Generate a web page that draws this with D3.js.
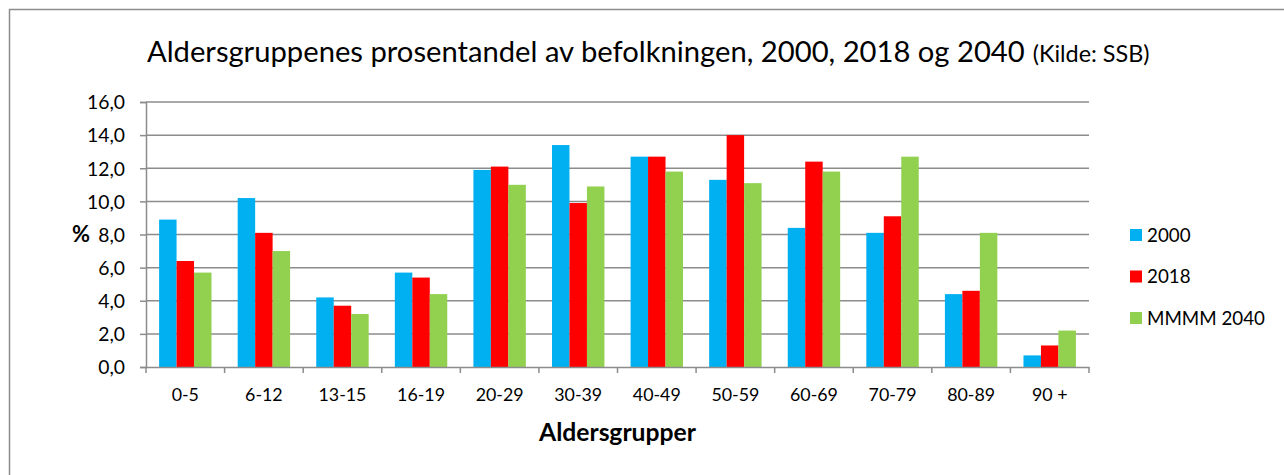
<!DOCTYPE html>
<html><head><meta charset="utf-8">
<script src="https://cdn.jsdelivr.net/npm/d3@7"></script>
<style>body{margin:0;background:#fff}svg{display:block}text{font-family:Lato,"Noto Sans",sans-serif;fill:#000}</style>
</head><body>
<script>
const categories = ["0-5","6-12","13-15","16-19","20-29","30-39","40-49","50-59","60-69","70-79","80-89","90 +"];
const seriesNames = ["2000","2018","MMMM 2040"];
const values2000 = [8.9,10.2,4.2,5.7,11.9,13.4,12.7,11.3,8.4,8.1,4.4,0.7];
const values2018 = [6.4,8.1,3.7,5.4,12.1,9.9,12.7,14.0,12.4,9.1,4.6,1.3];
const values2040 = [5.7,7.0,3.2,4.4,11.0,10.9,11.8,11.1,11.8,12.7,8.1,2.2];
const seriesColors = ["#00B0F0","#FF0000","#92D050"];
const yTicks = [0,2,4,6,8,10,12,14,16];
const titleMain = "Aldersgruppenes prosentandel av befolkningen, 2000, 2018 og 2040";
const titleSource = "(Kilde: SSB)";
const xTitle = "Aldersgrupper";
const yTitle = "%";

const W=1284,H=475;
const svg=d3.select("body").append("svg").attr("width",W).attr("height",H);
svg.append("rect").attr("x",9.5).attr("y",9.5).attr("width",W).attr("height",H).attr("fill","#fff").attr("stroke","#8c8c8c").attr("stroke-width",1.5);

const L=146,R=1089,T=102,B=367;
const x=d3.scaleBand().domain(categories).range([L,R]).paddingInner(0.333).paddingOuter(0.1667);
const xs=d3.scaleBand().domain(seriesNames).range([0,x.bandwidth()]);
const y=d3.scaleLinear().domain([0,16]).range([B,T]);
const gridColor="#8c8c8c";

function fit(sel,target){const w=sel.node().getComputedTextLength();const fs=parseFloat(sel.attr("font-size"));sel.attr("font-size",fs*target/w);}

// gridlines
svg.append("g").selectAll("line").data(yTicks.filter(d=>d>0)).join("line")
  .attr("x1",L).attr("x2",R).attr("y1",d=>y(d)).attr("y2",d=>y(d))
  .attr("stroke",gridColor).attr("stroke-width",1.5);

// bars
const data=[values2000,values2018,values2040];
const g=svg.append("g");
categories.forEach((c,i)=>{
  seriesNames.forEach((s,j)=>{
    g.append("rect").attr("x",x(c)+xs(s)).attr("width",xs.bandwidth())
     .attr("y",y(data[j][i])).attr("height",B-y(data[j][i])).attr("fill",seriesColors[j]);
  });
});

// y axis
const yAxis=d3.axisLeft(y).tickValues(yTicks).tickSize(6).tickFormat(d=>d3.format(".1f")(d).replace(".",","));
const ya=svg.append("g").attr("transform",`translate(${L},0)`).call(yAxis);
ya.select(".domain").attr("stroke",gridColor).attr("stroke-width",1.5);
ya.selectAll(".tick line").attr("stroke",gridColor).attr("stroke-width",1.5);
ya.selectAll(".tick text").attr("font-size",20).attr("x",-21).attr("dy","0.35em");
{const t=ya.selectAll(".tick text").filter(d=>d===16);const w=t.node().getComputedTextLength();ya.selectAll(".tick text").attr("font-size",20*38/w);}

// x axis
const xa=svg.append("g").attr("transform",`translate(0,${B})`)
  .call(d3.axisBottom(x).tickSize(0).tickSizeOuter(0));
xa.select(".domain").attr("stroke",gridColor).attr("stroke-width",1.5);
xa.selectAll(".tick text").attr("y",28).attr("dy","0.35em").attr("font-size",20);
{const t=xa.selectAll(".tick text").filter(d=>d==="30-39");const w=t.node().getComputedTextLength();xa.selectAll(".tick text").attr("font-size",20*48/w);}
// boundary ticks
const bounds=categories.map(c=>x(c)-x.step()*x.paddingInner()/2).concat([R]);
svg.append("g").selectAll("line").data(bounds).join("line")
  .attr("x1",d=>d).attr("x2",d=>d).attr("y1",B).attr("y2",B+6).attr("stroke",gridColor).attr("stroke-width",1.5);

// title
const tt=svg.append("text").attr("x",147).attr("y",62).attr("font-size",30);
const t1=tt.append("tspan").text(titleMain);
{const w=t1.node().getComputedTextLength();tt.attr("font-size",30*878/w);}
const t2=tt.append("tspan").attr("dx",8).attr("font-size",20).text(titleSource);
{const w=t2.node().getComputedTextLength();t2.attr("font-size",20*117/w);}

// axis titles
const xt=svg.append("text").attr("x",(L+R)/2).attr("y",441).attr("text-anchor","middle").attr("font-weight","bold").attr("font-size",20).text(xTitle);
fit(xt,157);
const yt=svg.append("text").attr("x",81).attr("y",(T+B)/2).attr("dy","0.35em").attr("text-anchor","middle").attr("font-weight","bold").attr("font-size",20).text(yTitle);
fit(yt,18);

// legend
const lg=svg.append("g");
seriesNames.forEach((s,j)=>{
  const cy=235+j*41.5;
  lg.append("rect").attr("x",1130).attr("y",cy-6).attr("width",12).attr("height",12).attr("fill",seriesColors[j]);
  lg.append("text").attr("class","lt").attr("x",1147).attr("y",cy).attr("dy","0.35em").attr("font-size",20).text(s);
});
{const t=lg.selectAll(".lt").filter(function(){return this.textContent==="MMMM 2040";});const w=t.node().getComputedTextLength();lg.selectAll(".lt").attr("font-size",20*118/w);}
</script>
</body></html>
